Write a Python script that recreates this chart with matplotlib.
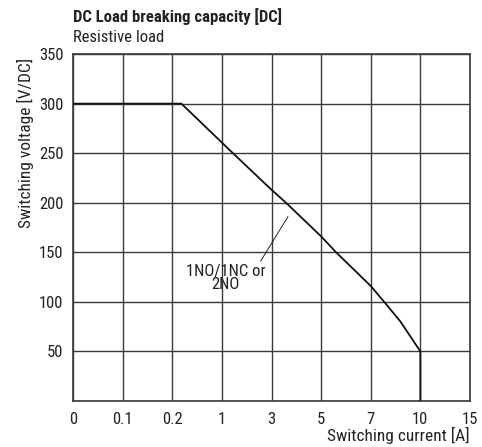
import numpy as np
import matplotlib.pyplot as plt

# Axis ticks (non-uniform current scale, evenly spaced on the chart)
current_ticks = [0, 0.1, 0.2, 1, 3, 5, 7, 10, 15]
current_labels = ['0', '0.1', '0.2', '1', '3', '5', '7', '10', '15']
voltage_ticks = [50, 100, 150, 200, 250, 300, 350]

# Breaking capacity curve
curve_current = [0, 0.344, 1.44, 3.0, 3.58, 5.0, 5.6, 7.0, 7.81, 8.8, 10.0, 10.0]
curve_voltage = [300, 300, 250, 213, 200, 166, 150, 116, 100, 80, 50, 0]

plt.rcParams['font.family'] = ['Roboto Condensed', 'Roboto', 'DejaVu Sans']

positions = np.arange(len(current_ticks))


def to_pos(values):
    # map currents onto the evenly spaced tick positions
    return np.interp(values, current_ticks, positions)


fig = plt.figure(figsize=(4.82, 4.47), dpi=100)
ax = fig.add_axes([0.152, 0.103, 0.823, 0.776])

grid_color = '#3a3a3a'
text_color = '#222222'
for p in positions:
    ax.axvline(p, color=grid_color, lw=1.0, zorder=1)
for v in range(0, 351, 50):
    ax.axhline(v, color=grid_color, lw=1.0, zorder=1)

ax.plot(to_pos(curve_current), curve_voltage, color='#111111', lw=1.3, zorder=3)

ax.set_xlim(0, len(current_ticks) - 1)
ax.set_ylim(0, 350)
ax.set_xticks(positions)
ax.set_xticklabels(current_labels)
ax.set_yticks(voltage_ticks)
ax.tick_params(length=0, labelsize=12, colors=text_color)
ax.tick_params(axis='x', pad=8)
ax.tick_params(axis='y', pad=7)
for s in ax.spines.values():
    s.set_color(grid_color)
    s.set_linewidth(1.2)

# label with leader line
ax.annotate('1NO/1NC or\n2NO', xy=(4.33, 186), xytext=(3.07, 124),
            ha='center', va='center', fontsize=12, linespacing=0.85,
            color=text_color,
            arrowprops=dict(arrowstyle='-', color=text_color, lw=0.7,
                            shrinkA=0, shrinkB=0, relpos=(0.92, 1.0)))

# y label sits near the top of the axis, as in the original
ax.text(-0.10, 0.99, 'Switching voltage [V/DC]', transform=ax.transAxes,
        rotation=90, ha='right', va='top', fontsize=12.5, color=text_color)
fig.text(0.975, 0.026, 'Switching current [A]', ha='right', va='center',
         fontsize=12.5, color=text_color)

fig.text(0.152, 0.962, 'DC Load breaking capacity [DC]', ha='left', va='center',
         fontsize=12, fontweight='bold', color=text_color)
fig.text(0.152, 0.915, 'Resistive load', ha='left', va='center',
         fontsize=12, color=text_color)

fig.savefig('out.png', dpi=100)
